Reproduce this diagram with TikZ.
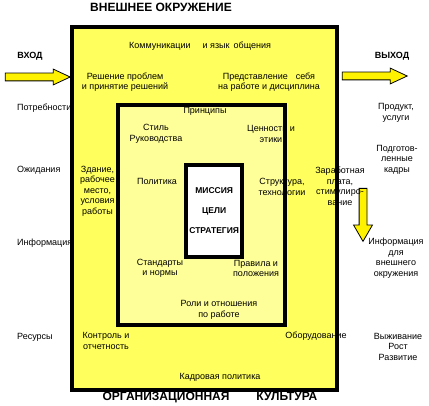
\documentclass[tikz,border=0pt]{standalone}
\usepackage{fontspec}
\setmainfont{Liberation Sans}
\usetikzlibrary{shapes.arrows}
\definecolor{cenv}{HTML}{FFFF5E}
\definecolor{corg}{HTML}{FFFF99}
\definecolor{cline}{HTML}{000000}

\begin{document}
\begin{tikzpicture}[
  x=1pt, y=-1pt,
  font=\fontsize{9pt}{10.5pt}\selectfont,
  frame/.style={draw=cline, line width=4pt, inner sep=0pt},
  lbl/.style={align=center, inner sep=0pt},
  side/.style={anchor=west, inner sep=0pt},
  head/.style={font=\fontsize{12pt}{14pt}\selectfont\bfseries, inner sep=0pt},
  tag/.style={font=\fontsize{9pt}{10.5pt}\selectfont\bfseries, inner sep=0pt},
  flow/.style={single arrow, draw=cline, fill=yellow, line width=0.8pt,
               inner xsep=0pt, inner ysep=3.5pt, single arrow head extend=4pt,
               single arrow tip angle=50},
  ]
\useasboundingbox (0,0) rectangle (429,406);
% nested boxes
\node[frame, fill=cenv, minimum width=265pt, minimum height=363.5pt] (env) at (204.5,208.75) {};
\node[frame, fill=corg, minimum width=167pt, minimum height=220pt] (org) at (201.5,214.6) {};
\node[frame, fill=white, minimum width=55.7pt, minimum height=92.3pt, align=center,
      font=\fontsize{8.5pt}{20pt}\selectfont\bfseries] (core) at (214.2,210.9)
      {МИССИЯ\\ЦЕЛИ\\СТРАТЕГИЯ};
% arrows
\node[flow, minimum height=65pt] (inarrow) at (33.5,77) {};
\node[flow, minimum height=65pt] (outarrow) at (370.5,76) {};
\node[flow, minimum height=53pt, rotate=-90, single arrow head extend=5.5pt,
      single arrow tip angle=60] (downarrow) at (363,211.5) {};
% titles
\node[head] (envtitle) at (161,7) {ВНЕШНЕЕ ОКРУЖЕНИЕ};
\node[head] (culture) at (210,398) {ОРГАНИЗАЦИОННАЯ\hspace{27pt}КУЛЬТУРА};
\node[tag] (vhod) at (30,56) {ВХОД};
\node[tag] (vyhod) at (392,56) {ВЫХОД};
% left column
\node[side] (needs) at (17,108) {Потребности};
\node[side] (expect) at (17,170) {Ожидания};
\node[side] (info) at (17,243) {Информация};
\node[side] (resources) at (17,337) {Ресурсы};
% outer ring
\node[lbl] (comm) at (200,46) {Коммуникации\hspace{12pt}и язык\hspace{4pt}общения};
\node[lbl] (solve) at (125,82) {Решение проблем\\и принятие решений};
\node[lbl] (self) at (269,82) {Представление\hspace{8pt}себя\\на работе и дисциплина};
\node[lbl] (building) at (97.5,191) {Здание,\\рабочее\\место,\\условия\\работы};
\node[lbl] (salary) at (340,186) {Заработная\\плата,\\стимулиро-\\вание};
\node[lbl] (control) at (106,341) {Контроль и\\отчетность};
\node[lbl] (equip) at (316,336) {Оборудование};
\node[lbl] (hr) at (220,377) {Кадровая политика};
% middle ring
\node[lbl] (princ) at (205,111) {Принципы};
\node[lbl] (style) at (156,134) {Стиль\\Руководства};
\node[lbl] (values) at (271,134) {Ценности и\\этики};
\node[lbl] (policy) at (157,181) {Политика};
\node[lbl] (struct) at (282,187) {Структура,\\технологии};
\node[lbl] (standards) at (160,268.5) {Стандарты\\и нормы};
\node[lbl] (rules) at (256,268.5) {Правила и\\положения};
\node[lbl] (roles) at (219,310) {Роли и отношения\\по работе};
% right column
\node[lbl] (product) at (396,113) {Продукт,\\услуги};
\node[lbl] (staff) at (397,159.5) {Подготов-\\ленные\\кадры};
\node[lbl] (extinfo) at (396,258) {Информация\\для\\внешнего\\окружения};
\node[lbl] (survive) at (398,346.5) {Выживание\\Рост\\Развитие};
\end{tikzpicture}
\end{document}
